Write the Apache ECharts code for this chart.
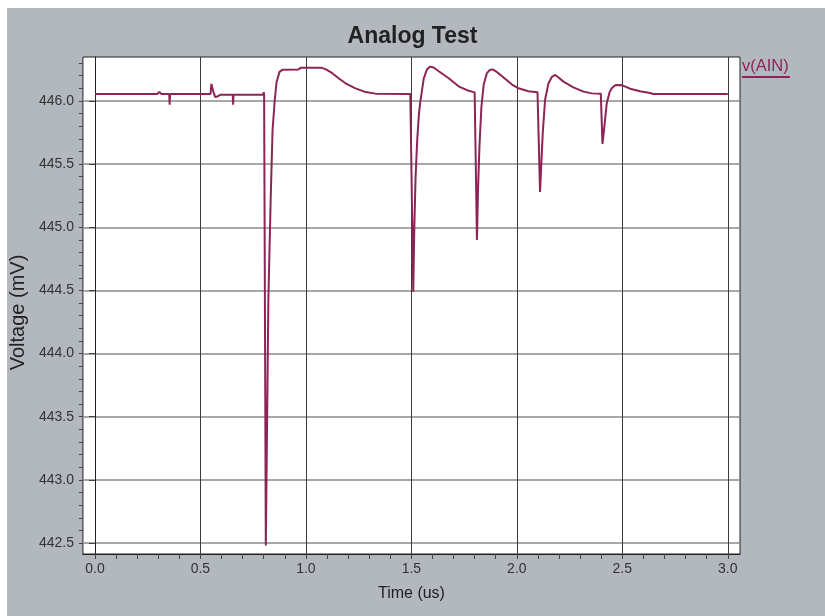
<!DOCTYPE html>
<html>
<head>
<meta charset="utf-8">
<script src="https://cdn.jsdelivr.net/npm/echarts@6/dist/echarts.min.js"></script>
<style>
  html, body { margin: 0; padding: 0; background: #fff; }
  #analog-chart { width: 825px; height: 616px; }
</style>
</head>
<body>
<div id="analog-chart"></div>
<script>
// trace v(AIN)
var timeUs = [
  0.000, 0.050, 0.055, 0.060, 0.295, 0.305, 0.315, 0.352, 0.354, 0.356,
  0.548, 0.552, 0.560, 0.570, 0.580, 0.595, 0.653, 0.655, 0.657, 0.798,
  0.800, 0.802, 0.810, 0.817, 0.822, 0.833, 0.842, 0.852, 0.861, 0.875,
  0.890, 0.965, 0.975, 1.075, 1.095, 1.125, 1.155, 1.188, 1.235, 1.283,
  1.330, 1.495, 1.509, 1.514, 1.520, 1.528, 1.536, 1.543, 1.559, 1.574,
  1.590, 1.605, 1.630, 1.677, 1.724, 1.764, 1.800, 1.811, 1.816, 1.823,
  1.832, 1.843, 1.858, 1.872, 1.885, 1.905, 1.930, 1.977, 2.008, 2.055,
  2.098, 2.110, 2.116, 2.123, 2.134, 2.150, 2.166, 2.182, 2.195, 2.221,
  2.268, 2.316, 2.355, 2.398, 2.406, 2.412, 2.426, 2.440, 2.450, 2.466,
  2.490, 2.503, 2.537, 2.584, 2.631, 2.647, 3.000
];
var voltageMv = [
  446.055, 446.055, 446.065, 446.055, 446.055, 446.072, 446.055, 446.055, 445.970, 446.055,
  446.055, 446.135, 446.080, 446.030, 446.035, 446.050, 446.050, 445.970, 446.050, 446.050,
  446.070, 446.050, 442.480, 443.600, 444.420, 445.220, 445.770, 446.000, 446.150, 446.230,
  446.248, 446.250, 446.262, 446.262, 446.250, 446.220, 446.180, 446.140, 446.100, 446.070,
  446.058, 446.055, 444.490, 445.000, 445.400, 445.700, 445.900, 446.000, 446.180, 446.250,
  446.272, 446.265, 446.235, 446.180, 446.116, 446.085, 446.068, 444.900, 445.300, 445.650,
  445.950, 446.130, 446.220, 446.245, 446.250, 446.230, 446.195, 446.130, 446.100, 446.077,
  446.068, 445.280, 445.500, 445.750, 446.010, 446.140, 446.190, 446.206, 446.190, 446.153,
  446.108, 446.074, 446.060, 446.058, 445.660, 445.750, 445.980, 446.070, 446.100, 446.125,
  446.127, 446.122, 446.097, 446.077, 446.063, 446.055, 446.055
];
var timeTicks = [0, 0.5, 1.0, 1.5, 2.0, 2.5, 3.0];
var voltTicks = [442.5, 443.0, 443.5, 444.0, 444.5, 445.0, 445.5, 446.0];
// small ticks on the voltage axis, every 0.1 mV
var voltMinorTicks = [
  442.5, 442.6, 442.7, 442.8, 442.9, 443.0, 443.1, 443.2, 443.3, 443.4,
  443.5, 443.6, 443.7, 443.8, 443.9, 444.0, 444.1, 444.2, 444.3, 444.4,
  444.5, 444.6, 444.7, 444.8, 444.9, 445.0, 445.1, 445.2, 445.3, 445.4,
  445.5, 445.6, 445.7, 445.8, 445.9, 446.0, 446.1, 446.2, 446.3
];

var traceColor = "#8c2455";
var font = "Liberation Sans, Arial, sans-serif";
var yMin = 442.413;
var yMax = 446.348;

var chartDOM = document.getElementById("analog-chart");
var analogChart = echarts.init(chartDOM, null, { renderer: "canvas" });

var points = [];
for (var i = 0; i < timeUs.length; i++) {
  points.push([timeUs[i], voltageMv[i]]);
}

var option = {
  backgroundColor: "#ffffff",
  animation: false,
  textStyle: { fontFamily: font },
  graphic: [
    {
      type: "rect",
      left: 7,
      top: 8,
      z: -10,
      shape: { width: 818, height: 608 },
      style: { fill: "#b3b8bf" },
    },
  ],
  title: {
    text: "Analog Test",
    left: "center",
    top: 20,
    textStyle: { fontFamily: font, fontSize: 23, fontWeight: "bold", color: "#222" },
  },
  legend: {
    left: 737,
    top: 58,
    icon: "none",
    itemWidth: 0,
    itemGap: 0,
    padding: 0,
    selectedMode: false,
    data: ["v(AIN)"],
    formatter: function (name) {
      return "{t|" + name + "}\n{u|}";
    },
    textStyle: {
      rich: {
        t: { fontFamily: font, fontSize: 16.5, color: traceColor, lineHeight: 18 },
        u: { backgroundColor: traceColor, width: 48, height: 2, lineHeight: 3 },
      },
    },
  },
  grid: {
    left: 82,
    right: 85,
    top: 57,
    bottom: 62,
    show: true,
    backgroundColor: "#ffffff",
    borderColor: "#222",
    borderWidth: 1,
  },
  xAxis: {
    type: "value",
    min: -0.057,
    max: 3.058,
    minInterval: 0.5,
    maxInterval: 0.5,
    name: "Time (us)",
    nameLocation: "middle",
    nameGap: 32,
    nameTextStyle: { fontFamily: font, fontSize: 16, color: "#222" },
    axisLine: { show: true, lineStyle: { color: "#222", width: 1 } },
    axisTick: { show: true, length: 5, customValues: timeTicks, lineStyle: { color: "#444" } },
    minorTick: { show: true, splitNumber: 5, length: 5, lineStyle: { color: "#444" } },
    axisLabel: {
      customValues: timeTicks,
      margin: 8,
      fontSize: 14,
      color: "#333",
      formatter: function (v) { return v.toFixed(1); },
    },
    splitLine: { show: true, lineStyle: { color: "#3a3a3a", width: 1 } },
  },
  yAxis: [
    {
      type: "value",
      min: yMin,
      max: yMax,
      minInterval: 0.5,
      maxInterval: 0.5,
      name: "Voltage (mV)",
      nameLocation: "middle",
      nameGap: 53,
      nameTextStyle: { fontFamily: font, fontSize: 20, color: "#222", padding: [0, 14, 0, 0] },
      axisLine: { show: true, lineStyle: { color: "#222", width: 1 } },
      axisTick: { show: true, length: 6, customValues: voltTicks, lineStyle: { color: "#444" } },
      axisLabel: {
        customValues: voltTicks,
        margin: 9,
        fontSize: 14,
        color: "#333",
        formatter: function (v) { return v.toFixed(1); },
      },
      splitLine: { show: true, lineStyle: { color: "#8a8a8a", width: 1.6 } },
    },
    {
      type: "value",
      position: "left",
      min: yMin,
      max: yMax,
      axisLine: { show: false },
      axisTick: { show: true, length: 4, customValues: voltMinorTicks, lineStyle: { color: "#444" } },
      axisLabel: { show: false },
      splitLine: { show: false },
    },
  ],
  series: [
    {
      name: "v(AIN)",
      type: "line",
      yAxisIndex: 0,
      data: points,
      showSymbol: false,
      symbol: "none",
      lineStyle: { color: traceColor, width: 2 },
      itemStyle: { color: traceColor },
    },
  ],
};

option && analogChart.setOption(option);
</script>
</body>
</html>
